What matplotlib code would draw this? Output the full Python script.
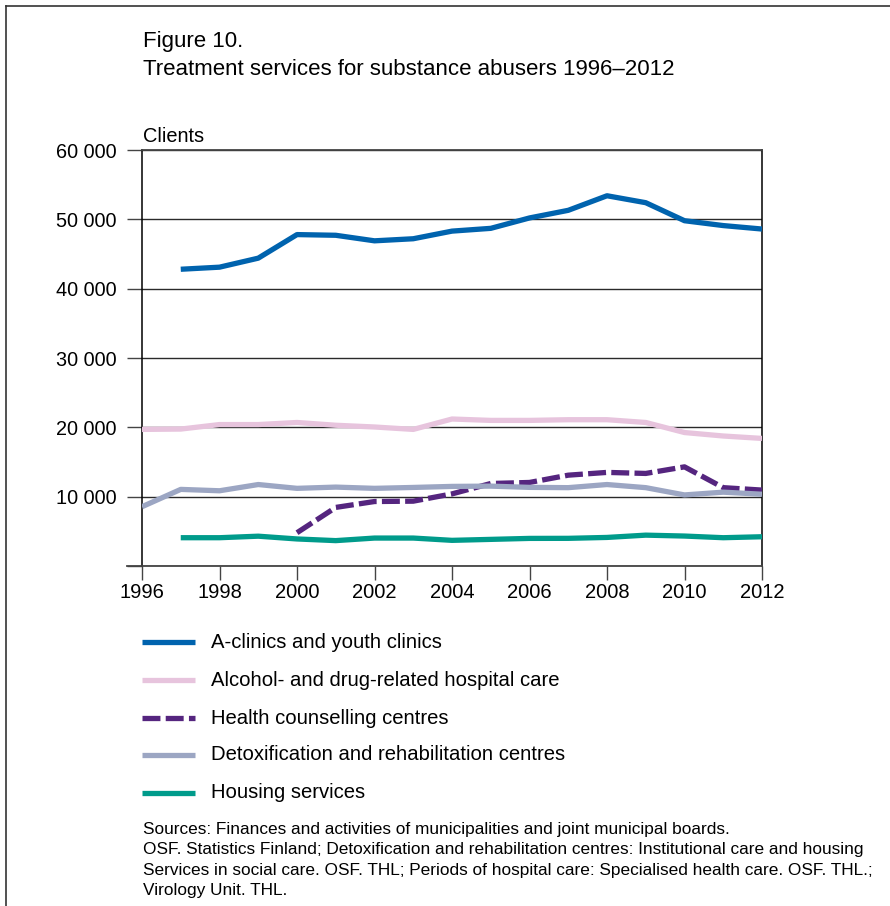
import matplotlib
matplotlib.use("Agg")
import matplotlib.pyplot as plt
from matplotlib.lines import Line2D

plt.rcParams['font.family'] = ['Liberation Sans', 'DejaVu Sans']

BLUE = "#0063AE"
PINK = "#E7C4DD"
PURPLE = "#55257F"
GREYBLUE = "#9CA6C3"
TEAL = "#009B8B"
FRAME = "#333333"

years = list(range(1996, 2013))

# None = no data for that year
a_clinics = [None, 42800, 43100, 44400, 47800, 47700, 46900, 47200, 48300,
             48700, 50200, 51300, 53400, 52400, 49800, 49100, 48600]
hospital = [19700, 19750, 20400, 20400, 20700, 20300, 20050, 19700, 21200,
            21000, 21000, 21100, 21100, 20700, 19250, 18750, 18400]
counselling = [None, None, None, None, 4800, 8450, 9300, 9350, 10400,
               11900, 12050, 13100, 13500, 13350, 14300, 11300, 10950]
detox = [8550, 11050, 10850, 11750, 11200, 11380, 11200, 11330, 11480,
         11520, 11340, 11300, 11750, 11300, 10250, 10650, 10350]
housing = [None, 4080, 4080, 4300, 3900, 3660, 4030, 4030, 3700,
           3840, 3980, 3990, 4120, 4450, 4320, 4080, 4220]

series_names = ["A-clinics and youth clinics",
                "Alcohol- and drug-related hospital care",
                "Health counselling centres",
                "Detoxification and rehabilitation centres",
                "Housing services"]

yticks = [0, 10000, 20000, 30000, 40000, 50000, 60000]
ytick_labels = ["", "10 000", "20 000", "30 000", "40 000", "50 000", "60 000"]
xticks = list(range(1996, 2013, 2))

title_lines = ["Figure 10.", "Treatment services for substance abusers 1996\u20132012"]
source_lines = [
    "Sources: Finances and activities of municipalities and joint municipal boards.",
    "OSF. Statistics Finland; Detoxification and rehabilitation centres: Institutional care and housing",
    "Services in social care. OSF. THL; Periods of hospital care: Specialised health care. OSF. THL.;",
    "Virology Unit. THL.",
]

W, H = 890, 906
fig = plt.figure(figsize=(W / 100, H / 100), dpi=100)

def fx(px):
    return px / W

def fy(py):
    return 1 - py / H

# frame lines (top and left)
fig.add_artist(Line2D([fx(6), 1], [fy(6), fy(6)], color=FRAME, lw=1.2))
fig.add_artist(Line2D([fx(6), fx(6)], [fy(6), 0], color=FRAME, lw=1.2))

ax = fig.add_axes([fx(142), fy(566), fx(762) - fx(142), fy(150) - fy(566)])

def pairs(vals):
    xs = [y for y, v in zip(years, vals) if v is not None]
    vs = [v for v in vals if v is not None]
    return xs, vs

lw = 3.8
styles = [
    (a_clinics, BLUE, '-'),
    (hospital, PINK, '-'),
    (counselling, PURPLE, '--'),
    (detox, GREYBLUE, '-'),
    (housing, TEAL, '-'),
]
handles = []
for (vals, color, ls), name in zip(styles, series_names):
    xs, vs = pairs(vals)
    ln, = ax.plot(xs, vs, color=color, lw=lw, ls=ls, solid_capstyle='butt',
                  dash_capstyle='butt', zorder=3, label=name)
    if ls == '--':
        ln.set_dashes((3.4, 1.0))
    handles.append(ln)

ax.set_xlim(1996, 2012)
ax.set_ylim(0, 60000)
ax.set_yticks(yticks)
ax.set_yticklabels(ytick_labels)
ax.set_xticks(xticks)
ax.yaxis.grid(True, color="#2a2a2a", lw=1.0)
ax.set_axisbelow(True)

for side in ['left', 'right']:
    ax.spines[side].set_color('black')
    ax.spines[side].set_linewidth(1.1)
ax.spines['top'].set_color('#444444')
ax.spines['top'].set_linewidth(1.3)
ax.spines['bottom'].set_color('#444444')
ax.spines['bottom'].set_linewidth(1.3)

ax.tick_params(axis='y', direction='out', length=11, width=1.0, pad=7,
               labelsize=14.3, color='#444444')
ax.tick_params(axis='x', direction='out', length=10, width=1.0, pad=2,
               labelsize=14.5, color='#444444')
# axis line at zero extends left like the other ticks
ax.plot([1996 - 15 / 38.75, 1996], [0, 0], color='#444444', lw=1.3,
        clip_on=False, zorder=2)

fig.text(fx(143), fy(47), title_lines[0], fontsize=16, va='baseline', ha='left')
fig.text(fx(143), fy(75), title_lines[1], fontsize=16, va='baseline', ha='left')
fig.text(fx(143), fy(142), "Clients", fontsize=14.4, va='baseline', ha='left')

# legend
leg_y = [642, 680, 718, 755, 793]
for h, y, name in zip(handles, leg_y, series_names):
    l = Line2D([fx(142), fx(195)], [fy(y), fy(y)], color=h.get_color(),
               lw=lw, ls=h.get_linestyle(), solid_capstyle='butt', dash_capstyle='butt')
    if h.get_linestyle() == '--':
        l.set_dashes((3.4, 1.0))
    fig.add_artist(l)
    fig.text(fx(211), fy(y), name, fontsize=14.6, va='center', ha='left')

for i, line in enumerate(source_lines):
    fig.text(fx(143), fy(834 + i * 20.4), line, fontsize=12.4,
             va='baseline', ha='left')

fig.savefig("out.png", dpi=100)
